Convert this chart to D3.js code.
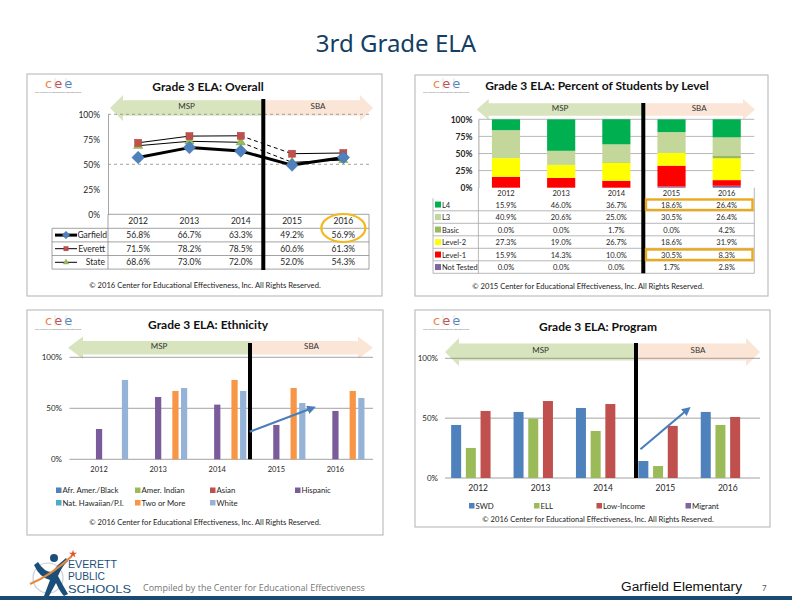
<!DOCTYPE html>
<html><head><meta charset="utf-8">
<script src="https://cdn.jsdelivr.net/npm/d3@7"></script>
<style>body{margin:0;background:#fff}svg{display:block;font-family:Lato,'Open Sans',sans-serif}</style>
</head><body>
<script>
// ---------- DATA ----------
const years = ["2012","2013","2014","2015","2016"];
const overallNames = ["Garfield","Everett","State"];
const overallGarfield = [56.8,66.7,63.3,49.2,56.9];
const overallEverett  = [71.5,78.2,78.5,60.6,61.3];
const overallState    = [68.6,73.0,72.0,52.0,54.3];
const overallTicks = [0,25,50,75,100];

const levelNames = ["L4","L3","Basic","Level-2","Level-1","Not Tested"];
const levelL4    = [15.9,46.0,36.7,18.6,26.4];
const levelL3    = [40.9,20.6,25.0,30.5,26.4];
const levelBasic = [0.0,0.0,1.7,0.0,4.2];
const levelL2    = [27.3,19.0,26.7,18.6,31.9];
const levelL1    = [15.9,14.3,10.0,30.5,8.3];
const levelNT    = [0.0,0.0,0.0,1.7,2.8];

const ethnNames = ["Afr. Amer./Black","Amer. Indian","Asian","Hispanic","Nat. Hawaiian/P.I.","Two or More","White"];
const ethnAfrAmer   = [null,null,null,null,null];
const ethnAmerInd   = [null,null,null,null,null];
const ethnAsian     = [null,null,null,null,null];
const ethnHispanic  = [29.7,61.1,53.6,33.7,47.4];
const ethnHawaiian  = [null,null,null,null,null];
const ethnTwoOrMore = [null,67.0,77.8,69.9,67.0];
const ethnWhite     = [77.8,69.9,67.0,55.2,60.1];

const progNames = ["SWD","ELL","Low-Income","Migrant"];
const progSWD       = [44.3,55.2,58.5,14.2,55.2];
const progELL       = [25.1,49.6,39.3,10.0,44.3];
const progLowIncome = [56.0,64.3,61.8,43.5,51.0];
const progMigrant   = [null,null,null,null,null];
const barTicks = [0,50,100];

// ---------- SETUP ----------
const W=792,H=612;
const svg=d3.select("body").append("svg").attr("width",W).attr("height",H);
const C = {green:"#D7E4BD", peach:"#FBE5D6", grid:"#A6A6A6", text:"#262626"};

svg.append("text").attr("x",396).attr("y",52).attr("text-anchor","middle")
  .attr("font-family","'Noto Sans',sans-serif").attr("font-size",24).attr("fill","#143E63").text("3rd Grade ELA");

function panel(x0,y0,x1,y1){
  svg.append("rect").attr("x",x0).attr("y",y0).attr("width",x1-x0).attr("height",y1-y0)
    .attr("fill","#fff").attr("stroke","#BFBFBF").attr("stroke-width",1.2);
}
function cee(x,y){
  const g=svg.append("g").attr("transform",`translate(${x},${y})`);
  const t=g.append("text").attr("y",10).attr("font-family","'DejaVu Sans',sans-serif").attr("font-size",13);
  t.append("tspan").attr("fill","#E9874B").text("c");
  t.append("tspan").attr("fill","#C0504D").attr("dx",2).text("e");
  t.append("tspan").attr("fill","#4F81BD").attr("dx",2).text("e");
  g.append("line").attr("x1",10).attr("x2",10).attr("y1",0).attr("y2",11).attr("stroke","#ccc").attr("stroke-width",0.6);
  g.append("line").attr("x1",21).attr("x2",21).attr("y1",0).attr("y2",11).attr("stroke","#ccc").attr("stroke-width",0.6);
  g.append("text").attr("x",-10).attr("y",15).attr("font-size",2.6).attr("fill","#777").text("The Center for Educational Effectiveness");
}
function title(x,y,s){
  svg.append("text").attr("x",x).attr("y",y).attr("text-anchor","middle").attr("font-weight","bold")
    .attr("font-size",12).attr("fill","#111").text(s);
}
function copyright(x,y,yr){
  svg.append("text").attr("x",x).attr("y",y).attr("text-anchor","middle").attr("font-size",7.6)
    .attr("fill","#222").text(`© ${yr} Center for Educational Effectiveness, Inc. All Rights Reserved.`);
}
// MSP/SBA arrows
function eraArrows(xl,xm,xr,yt,yb,head){
  const h=yb-yt, inset=h*0.2, my=(yt+yb)/2;
  svg.append("path").attr("fill",C.green).attr("d",
    `M${xl},${my} L${xl+head},${yt} L${xl+head},${yt+inset} L${xm},${yt+inset} L${xm},${yb-inset} L${xl+head},${yb-inset} L${xl+head},${yb} Z`);
  svg.append("path").attr("fill",C.peach).attr("d",
    `M${xr},${my} L${xr-head},${yt} L${xr-head},${yt+inset} L${xm},${yt+inset} L${xm},${yb-inset} L${xr-head},${yb-inset} L${xr-head},${yb} Z`);
  svg.append("text").attr("x",(xl+xm)/2).attr("y",my+1).attr("text-anchor","middle").attr("font-size",8).attr("fill","#333").text("MSP");
  svg.append("text").attr("x",(xm+xr)/2).attr("y",my+1).attr("text-anchor","middle").attr("font-size",8).attr("fill","#333").text("SBA");
}
function vbar(x,y0,y1){
  svg.append("line").attr("x1",x).attr("x2",x).attr("y1",y0).attr("y2",y1).attr("stroke","#000").attr("stroke-width",4);
}
function marker(g,type,cx,cy,s){
  if(type==="diamond") g.append("path").attr("d",d3.symbol(d3.symbolDiamond2,s*s*1.0)()).attr("transform",`translate(${cx},${cy})`).attr("fill","#4F81BD").attr("stroke","#3A6BA5").attr("stroke-width",0.5);
  if(type==="square") g.append("rect").attr("x",cx-s/2).attr("y",cy-s/2).attr("width",s).attr("height",s).attr("fill","#C0504D").attr("stroke","#A33E3B").attr("stroke-width",0.5);
  if(type==="triangle") g.append("path").attr("d",d3.symbol(d3.symbolTriangle,s*s*0.6)()).attr("transform",`translate(${cx},${cy})`).attr("fill","#9BBB59").attr("stroke","#7F9A48").attr("stroke-width",0.4);
}
function trendArrow(id,x1,y1,x2,y2){
  svg.append("defs").append("marker").attr("id",id).attr("viewBox","0 0 10 10").attr("refX",5).attr("refY",5)
    .attr("markerWidth",4).attr("markerHeight",4).attr("orient","auto")
    .append("path").attr("d","M0,0 L10,5 L0,10 Z").attr("fill","#4A7EBB");
  svg.append("line").attr("x1",x1).attr("y1",y1).attr("x2",x2).attr("y2",y2).attr("stroke","#4A7EBB").attr("stroke-width",2.2).attr("marker-end",`url(#${id})`);
}

// ---------- PANEL 1: OVERALL ----------
panel(27,74,382,296); cee(45,78); title(208,91,"Grade 3 ELA: Overall");
eraArrows(110,263,373,95,121,13);
const x1=d3.scalePoint().domain(years).range([112.5,369]).padding(0.5);
const y1=d3.scaleLinear().domain([0,100]).range([214.3,114.3]);
const g1=svg.append("g");
[50,100].forEach(v=>g1.append("line").attr("x1",108).attr("x2",369).attr("y1",y1(v)).attr("y2",y1(v))
  .attr("stroke","#8C8C8C").attr("stroke-dasharray","3,3").attr("stroke-width",0.8));
const ax1=g1.append("g").attr("transform","translate(108,0)").call(d3.axisLeft(y1).tickValues(overallTicks).tickFormat(d=>d+"%").tickSize(0).tickPadding(8));
ax1.select(".domain").attr("stroke","#A6A6A6");
ax1.selectAll("text").attr("font-size",8.5).attr("fill",C.text).attr("font-family","Lato,sans-serif");
// table
const rowH=13.6, tTop=214.3, hdrB=228.3;
const tb=svg.append("g").attr("stroke","#8C8C8C").attr("stroke-width",0.8);
tb.append("line").attr("x1",108).attr("x2",369).attr("y1",tTop).attr("y2",tTop);
for(let i=0;i<=3;i++) tb.append("line").attr("x1",52).attr("x2",369).attr("y1",hdrB+i*rowH).attr("y2",hdrB+i*rowH);
tb.append("line").attr("x1",52).attr("x2",52).attr("y1",hdrB).attr("y2",hdrB+3*rowH);
tb.append("line").attr("x1",108).attr("x2",108).attr("y1",tTop).attr("y2",hdrB+3*rowH);
tb.append("line").attr("x1",369).attr("x2",369).attr("y1",tTop).attr("y2",hdrB+3*rowH);
years.forEach(y=>svg.append("text").attr("x",x1(y)).attr("y",tTop+10).attr("text-anchor","middle").attr("font-size",8.5).attr("fill",C.text).text(y));
const ovSeries=[{n:"Garfield",v:overallGarfield,m:"diamond",w:3,s:10},{n:"Everett",v:overallEverett,m:"square",w:1,s:7},{n:"State",v:overallState,m:"triangle",w:1,s:8}];
ovSeries.forEach((s,i)=>{
  const cy=hdrB+i*rowH+rowH/2;
  svg.append("line").attr("x1",55).attr("x2",77).attr("y1",cy).attr("y2",cy).attr("stroke","#000").attr("stroke-width",s.w);
  marker(svg,s.m,66,cy,s.s*0.6);
  svg.append("text").attr("x",s.n==="Garfield"?107:105).attr("y",cy+3).attr("text-anchor","end").attr("font-size",8.5).attr("fill",C.text).text(s.n);
  s.v.forEach((v,j)=>svg.append("text").attr("x",x1(years[j])).attr("y",cy+3).attr("text-anchor","middle").attr("font-size",8.5).attr("fill",C.text).text(v.toFixed(1)+"%"));
});
// lines
ovSeries.slice().reverse().forEach(s=>{
  for(let j=0;j<years.length-1;j++){
    const dashed = (j===2 && s.n!=="Garfield");
    g1.append("line").attr("x1",x1(years[j])).attr("y1",y1(s.v[j])).attr("x2",x1(years[j+1])).attr("y2",y1(s.v[j+1]))
      .attr("stroke","#000").attr("stroke-width",s.w).attr("stroke-dasharray",dashed?"4,3":null);
  }
});
ovSeries.slice().reverse().forEach(s=>s.v.forEach((v,j)=>marker(g1,s.m,x1(years[j]),y1(v),s.s)));
vbar(263.3,99,270);
svg.append("ellipse").attr("cx",x1("2016")).attr("cy",228).attr("rx",22).attr("ry",14).attr("fill","none").attr("stroke","#F2B81E").attr("stroke-width",2.2);
copyright(205,288,2016);

// ---------- PANEL 2: LEVELS ----------
panel(415,75,768,296); cee(433,78); title(597,90,"Grade 3 ELA: Percent of Students by Level");
eraArrows(476.7,643.3,755,99,120,12);
const x2=d3.scaleBand().domain(years).range([478.4,754.3]).paddingInner(0.49).paddingOuter(0.245);
const y2=d3.scaleLinear().domain([0,100]).range([187.7,119.3]);
const levelColors={"L4":"#00B050","L3":"#C4D79B","Basic":"#9BBB59","Level-2":"#FFFF00","Level-1":"#FF0000","Not Tested":"#8064A2"};
const levelVals={"L4":levelL4,"L3":levelL3,"Basic":levelBasic,"Level-2":levelL2,"Level-1":levelL1,"Not Tested":levelNT};
[25,50,75,100].forEach(v=>svg.append("line").attr("x1",478.4).attr("x2",754.3).attr("y1",y2(v)).attr("y2",y2(v)).attr("stroke",C.grid).attr("stroke-width",0.8));
const ax2=svg.append("g").attr("transform","translate(478.4,0)").call(d3.axisLeft(y2).tickValues(overallTicks).tickFormat(d=>d+"%").tickSize(0).tickPadding(6));
ax2.select(".domain").attr("stroke","#A6A6A6");
ax2.selectAll("text").attr("font-size",8.5).attr("font-weight","bold").attr("fill",C.text).attr("font-family","Lato,sans-serif");
const stackRows=years.map((y,j)=>{const o={year:y};levelNames.forEach(n=>o[n]=levelVals[n][j]);return o;});
const stackKeys=["Not Tested","Level-1","Level-2","Basic","L3","L4"];
const stacked=d3.stack().keys(stackKeys)(stackRows);
stacked.forEach(layer=>{
  svg.append("g").attr("fill",levelColors[layer.key]).selectAll("rect").data(layer).join("rect")
    .attr("x",d=>x2(d.data.year)).attr("width",x2.bandwidth())
    .attr("y",d=>y2(d[1])).attr("height",d=>y2(d[0])-y2(d[1]));
});
// table
const t2Top=187.7, t2Hdr=198.3, r2=12.5;
const tb2=svg.append("g").attr("stroke","#A6A6A6").attr("stroke-width",0.8);
for(let i=1;i<=6;i++) tb2.append("line").attr("x1",433).attr("x2",754.3).attr("y1",t2Hdr+i*r2).attr("y2",t2Hdr+i*r2);
tb2.append("line").attr("x1",433).attr("x2",433).attr("y1",t2Hdr).attr("y2",t2Hdr+6*r2);
tb2.append("line").attr("x1",478.4).attr("x2",478.4).attr("y1",t2Top).attr("y2",t2Hdr+6*r2);
tb2.append("line").attr("x1",754.3).attr("x2",754.3).attr("y1",t2Top).attr("y2",t2Hdr+6*r2);
years.forEach(y=>svg.append("text").attr("x",x2(y)+x2.bandwidth()/2).attr("y",t2Top+8.5).attr("text-anchor","middle").attr("font-size",7.5).attr("fill",C.text).text(y));
levelNames.forEach((n,i)=>{
  const cy=t2Hdr+i*r2+r2/2;
  svg.append("rect").attr("x",435).attr("y",cy-3).attr("width",6).attr("height",6).attr("fill",levelColors[n]);
  svg.append("text").attr("x",442).attr("y",cy+3).attr("font-size",7.5).attr("fill",C.text).text(n);
  levelVals[n].forEach((v,j)=>svg.append("text").attr("x",x2(years[j])+x2.bandwidth()/2).attr("y",cy+3).attr("text-anchor","middle").attr("font-size",7.5).attr("fill",C.text).text(v.toFixed(1)+"%"));
});
vbar(643.3,103,273.3);
[0,4].forEach(i=>svg.append("rect").attr("x",646).attr("y",t2Hdr+i*r2+1.2).attr("width",106.5).attr("height",r2-2)
  .attr("fill","none").attr("stroke","#E8A820").attr("stroke-width",2.4));
copyright(588,289,2015);

// ---------- PANEL 3: ETHNICITY ----------
panel(27,310,383,535); cee(45,315); title(208,329,"Grade 3 ELA: Ethnicity");
eraArrows(68,250,373,336.5,359,15);
const x3=d3.scaleBand().domain(years).range([69.5,365]);
const x3i=d3.scaleBand().domain(ethnNames).range([0.5,58.6]).paddingInner(0.28);
const y3=d3.scaleLinear().domain([0,100]).range([459.3,357.3]);
const ethnColors=["#4F81BD","#9BBB59","#C0504D","#7A5C9B","#4BACC6","#F79646","#95B3D7"];
const ethnVals=[ethnAfrAmer,ethnAmerInd,ethnAsian,ethnHispanic,ethnHawaiian,ethnTwoOrMore,ethnWhite];
barTicks.forEach(v=>svg.append("line").attr("x1",69.5).attr("x2",373).attr("y1",y3(v)).attr("y2",y3(v)).attr("stroke","#8C8C8C").attr("stroke-width",0.8));
barTicks.forEach(v=>svg.append("text").attr("x",62).attr("y",y3(v)+3).attr("text-anchor","end").attr("font-size",8).attr("fill",C.text).text(v+"%"));
ethnNames.forEach((n,k)=>{
  const data=years.map((y,j)=>({y,v:ethnVals[k][j]})).filter(d=>d.v!=null);
  svg.append("g").attr("fill",ethnColors[k]).selectAll("rect").data(data).join("rect")
    .attr("x",d=>x3(d.y)+x3i(n)).attr("width",x3i.bandwidth()).attr("y",d=>y3(d.v)).attr("height",d=>y3(0)-y3(d.v));
});
years.forEach(y=>svg.append("text").attr("x",x3(y)+x3.bandwidth()/2).attr("y",472).attr("text-anchor","middle").attr("font-size",7.5).attr("fill",C.text).text(y));
vbar(250,343,459.3);
trendArrow("ta3",x3("2015")+x3.bandwidth()*0.05,y3(27),x3("2016")+x3.bandwidth()*0.1,y3(50));
const lx3=[59,138,213,298];
ethnNames.forEach((n,k)=>{
  const col=k<4?k:k-4, row=k<4?0:1;
  const lx=lx3[col], ly=row?503:490.5;
  svg.append("rect").attr("x",lx-3).attr("y",ly-3).attr("width",5.5).attr("height",5.5).attr("fill",ethnColors[k]);
  svg.append("text").attr("x",lx+3.5).attr("y",ly+2.5).attr("font-size",7.8).attr("fill",C.text).text(n);
});
copyright(205,525,2016);

// ---------- PANEL 4: PROGRAM ----------
panel(415,310,770,527); cee(433,315); title(598,331,"Grade 3 ELA: Program");
eraArrows(445,636,760,338,366,14);
const x4=d3.scaleBand().domain(years).range([447,759]);
const x4i=d3.scaleBand().domain(progNames).range([4.15,58.25]).paddingInner(0.32);
const y4=d3.scaleLinear().domain([0,100]).range([478,358.3]);
const progColors=["#4F81BD","#9BBB59","#C0504D","#8064A2"];
const progVals=[progSWD,progELL,progLowIncome,progMigrant];
barTicks.forEach(v=>svg.append("line").attr("x1",445).attr("x2",760).attr("y1",y4(v)).attr("y2",y4(v)).attr("stroke","#8C8C8C").attr("stroke-width",0.8));
barTicks.forEach(v=>svg.append("text").attr("x",438).attr("y",y4(v)+3).attr("text-anchor","end").attr("font-size",8).attr("fill",C.text).text(v+"%"));
progNames.forEach((n,k)=>{
  const data=years.map((y,j)=>({y,v:progVals[k][j]})).filter(d=>d.v!=null);
  svg.append("g").attr("fill",progColors[k]).selectAll("rect").data(data).join("rect")
    .attr("x",d=>x4(d.y)+x4i(n)).attr("width",x4i.bandwidth()).attr("y",d=>y4(d.v)).attr("height",d=>y4(0)-y4(d.v));
});
years.forEach(y=>svg.append("text").attr("x",x4(y)+x4.bandwidth()/2).attr("y",491).attr("text-anchor","middle").attr("font-size",8.5).attr("fill",C.text).text(y));
vbar(636,343,478);
trendArrow("ta4",x4("2015")+x4.bandwidth()*0.1,y4(24),x4("2016")-x4.bandwidth()*0.15,y4(57));
const lx4=[472,537,599.5,688.5];
progNames.forEach((n,k)=>{
  svg.append("rect").attr("x",lx4[k]-3).attr("y",503).attr("width",5.5).attr("height",5.5).attr("fill",progColors[k]);
  svg.append("text").attr("x",lx4[k]+3.5).attr("y",508.5).attr("font-size",7.8).attr("fill",C.text).text(n);
});
copyright(598,522,2016);

// ---------- FOOTER ----------
const lg=svg.append("g");
lg.append("circle").attr("cx",48).attr("cy",578).attr("r",15).attr("fill","none").attr("stroke","#C9CED6").attr("stroke-width",1.2);
lg.append("path").attr("d","M34,565 Q40,578 50,580 L44,596 L49,596 L56,583 Q60,592 64,596 L68,594 Q62,584 58,576 Q62,566 68,561 L66,558 Q58,564 52,572 Q44,572 38,562 Z").attr("fill","#1B4F7A");
lg.append("circle").attr("cx",54).attr("cy",558).attr("r",4).attr("fill","#1B4F7A");
lg.append("path").attr("d","M30,584 Q50,576 72,556").attr("fill","none").attr("stroke","#E58A3C").attr("stroke-width",2.2);
lg.append("path").attr("d",d3.symbol(d3.symbolStar,20)()).attr("transform","translate(73,554)").attr("fill","#E0522E");
[["EVERETT",567.5,49],["PUBLIC",580,37],["SCHOOLS",592.5,63]].forEach(([t,y,len])=>
  lg.append("text").attr("x",68).attr("y",y).attr("font-family","'Liberation Sans',sans-serif").attr("font-size",10.6)
    .attr("fill","#1B4F7A").attr("textLength",len).attr("lengthAdjust","spacingAndGlyphs").text(t));
svg.append("text").attr("x",143).attr("y",591).attr("font-family","'Open Sans',sans-serif").attr("font-size",9).attr("fill","#777").text("Compiled by the Center for Educational Effectiveness");
svg.append("text").attr("x",621).attr("y",591).attr("font-family","'Liberation Sans',sans-serif").attr("font-size",12).attr("fill","#111")
  .attr("textLength",121).attr("lengthAdjust","spacingAndGlyphs").text("Garfield Elementary");
svg.append("text").attr("x",762).attr("y",591).attr("font-size",8).attr("fill","#555").text("7");
svg.append("rect").attr("x",0).attr("y",596).attr("width",W).attr("height",4).attr("fill","#1B4A72");
</script>
</body></html>
